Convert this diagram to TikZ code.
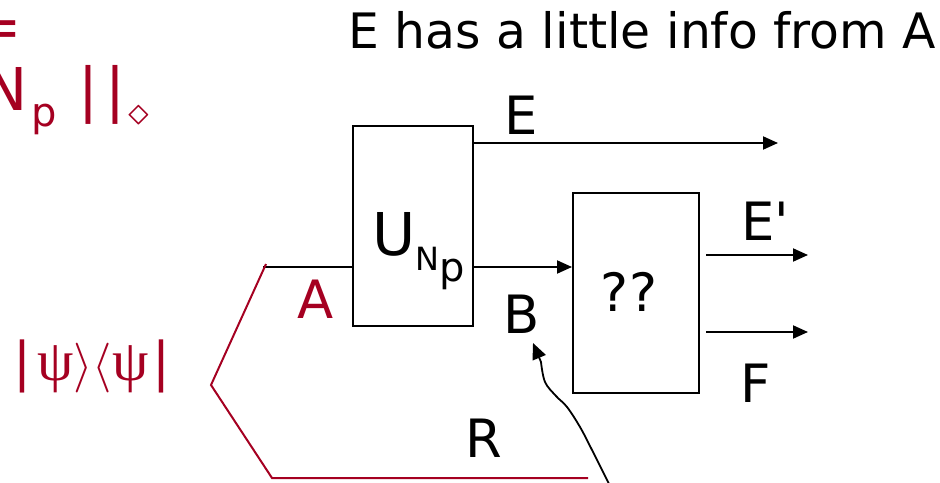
\documentclass[tikz,border=0pt]{standalone}
\usepackage{fontspec}
\setmainfont{DejaVu Sans}
\newfontfamily\greekserif{Liberation Serif}
\usetikzlibrary{arrows.meta}
\definecolor{slidered}{RGB}{165,0,33}
\tikzset{
    gate/.style={draw, line width=1pt, minimum width=60pt, minimum height=100pt, inner sep=0pt},
    wire/.style={line width=1pt},
    arr/.style={wire, -{Triangle[length=7.5pt,width=6.5pt]}},
    lbl/.style={font=\fontsize{26.4}{30}\selectfont, inner sep=0pt},
    big/.style={font=\fontsize{29.5}{32}\selectfont, inner sep=0pt},
    redtxt/.style={text=slidered}
}
\begin{document}
\begin{tikzpicture}[x=0.5pt,y=-0.5pt]
                        \useasboundingbox (0,0) rectangle (940,482);
                        \clip (0,0) rectangle (940,482);
                        % title
                        \node[font=\fontsize{24.4}{28}\selectfont, inner sep=0pt, anchor=base west] (title) at (348,48) {E has a little info from A};
                        % red formula on the left
                        \node[big, redtxt, anchor=base east] (eq) at (22,47) {=};
                        \node[big, redtxt, anchor=base east] (nn) at (28,110) {N};
                        \node[redtxt, inner sep=0pt, font=\fontsize{20}{20}\selectfont, anchor=base west] (np) at (31,126) {p};
                        \node[big, redtxt, anchor=base west] (bar1) at (78,110) {|};
                        \node[big, redtxt, anchor=base west] (bar2) at (105,110) {|};
                        \node[redtxt, inner sep=0pt, font=\fontsize{20}{20}\selectfont, anchor=base west] (dia) at (128,125) {$\diamond$};
                        \node[redtxt, inner sep=0pt, font=\fontsize{26.6}{30}\selectfont, anchor=base west] (psi) at (13,380) {|\hspace{3pt}{\greekserif\fontsize{29}{29}\selectfont ψ}{\fontsize{31}{31}\selectfont$\rangle\langle$}{\greekserif\fontsize{29}{29}\selectfont ψ}\hspace{2pt}|};
                        % gates
                        \node[gate] (unp) at (413,226) {};
                        \node[big, anchor=base west] (ulabel) at (372,255) {U\raisebox{-7.5pt}{\fontsize{16}{16}\selectfont N}\raisebox{-13pt}{\fontsize{20}{20}\selectfont p}};
                        \node[gate, minimum width=63pt] (qq) at (636,293) {};
                        \node[lbl, anchor=base] (qmarks) at (629,311) {??};
                        % free ends
                        \coordinate (ain) at (263,267);
                        \coordinate (eout) at (778,143);
                        \coordinate (e1in) at (706,255);
                        \coordinate (e1out) at (808,255);
                        \coordinate (fin) at (706,332);
                        \coordinate (fout) at (808,332);
                        \coordinate (rtop) at (266,264);
                        \coordinate (rend) at (588,478);
                        \coordinate (bend) at (533,343);
                        % wires
                        \draw[wire] (ain) -- (unp.west |- ain);
                        \draw[arr] (unp.east |- eout) -- (eout);
                        \draw[arr] (unp.east |- ain) -- (qq.west |- ain);
                        \draw[arr] (e1in) -- (e1out);
                        \draw[arr] (fin) -- (fout);
                        \draw[wire, slidered] (rtop) -- (211,385) -- (272,478) -- (rend);
                        \draw[line width=0.9pt, -{Triangle[length=8pt,width=7pt]}] plot[smooth, tension=0.6] coordinates {(610,486) (592,450) (580,427) (567,407) (556,396) (545,382) (541,362)} -- (bend);
                        % labels
                        \node[lbl, anchor=base] (elbl) at (521,134) {E};
                        \node[lbl, anchor=base] (blbl) at (522,333) {B};
                        \node[lbl, redtxt, anchor=base] (albl) at (316,318) {A};
                        \node[lbl, anchor=base] (e1lbl) at (765,240) {E\textquotesingle};
                        \node[lbl, anchor=base] (flbl) at (756,402) {F};
                        \node[lbl, anchor=base] (rlbl) at (484,457) {R};
\end{tikzpicture}
\end{document}
